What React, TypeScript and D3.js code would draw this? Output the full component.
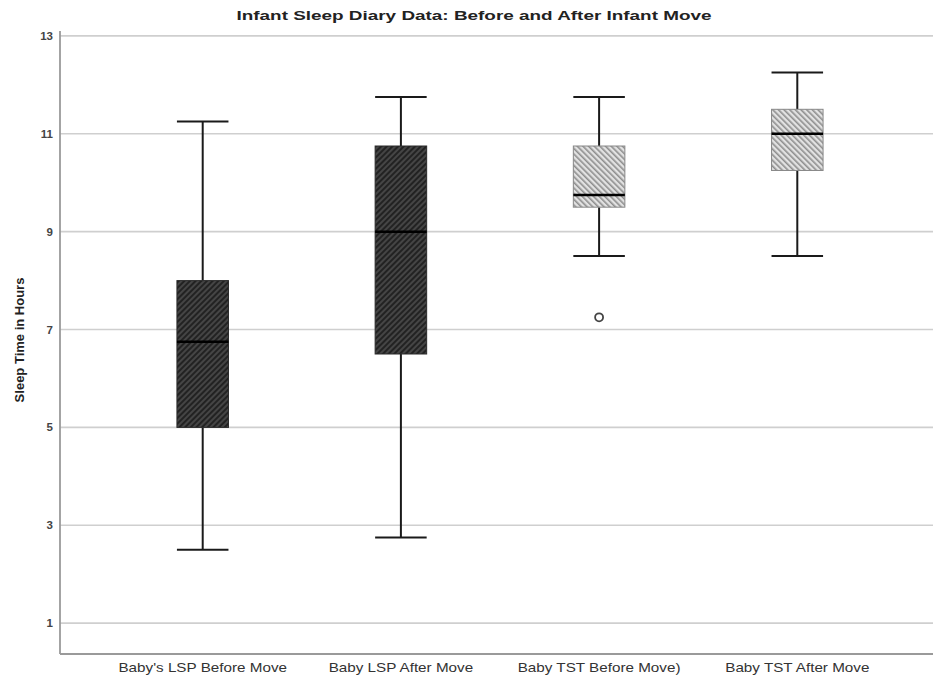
import React from "react";
import * as d3 from "d3";

const categories = [
  "Baby's LSP Before Move",
  "Baby LSP After Move",
  "Baby TST Before Move)",
  "Baby TST After Move",
];
const whiskerLow = [2.5, 2.75, 8.5, 8.5];
const q1 = [5, 6.5, 9.5, 10.25];
const median = [6.75, 9, 9.75, 11];
const q3 = [8, 10.75, 10.75, 11.5];
const whiskerHigh = [11.25, 11.75, 11.75, 12.25];
const outlierCategory = [2];
const outlierValue = [7.25];
const yTicks = [1, 3, 5, 7, 9, 11, 13];
const boxStyle = ["dark", "dark", "light", "light"];

const W = 933;
const H = 681;
const left = 60;
const bottom = 654;
const top = 31;

export default function App() {
  const y = d3.scaleLinear().domain([0.37, 13.1]).range([bottom, top]);
  const x = d3
    .scalePoint<string>()
    .domain(categories)
    .range([left, 940])
    .padding(0.72);
  const step = x.step();
  const boxW = step * 0.26;
  const capW = step * 0.13;

  return (
    <svg
      width={W}
      height={H}
      style={{ position: "absolute", left: 0, top: 0, background: "#fff" }}
      fontFamily="'Liberation Sans', Arial, sans-serif"
    >
      <defs>
        <pattern id="dark" patternUnits="userSpaceOnUse" width="4" height="4" patternTransform="rotate(45)">
          <rect width="4" height="4" fill="#454545" />
          <rect width="2" height="4" fill="#222" />
        </pattern>
        <pattern id="light" patternUnits="userSpaceOnUse" width="4" height="4" patternTransform="rotate(-45)">
          <rect width="4" height="4" fill="#e2e2e2" />
          <rect width="1.6" height="4" fill="#8e8e8e" />
        </pattern>
      </defs>
      <rect width={W} height={H} fill="#fff" />
      {yTicks.map((t) => (
        <line key={t} x1={left} x2={W} y1={y(t)} y2={y(t)} stroke="#cfcfcf" strokeWidth={1.6} />
      ))}
      <line x1={left} x2={left} y1={top} y2={bottom} stroke="#9a9a9a" strokeWidth={1.8} />
      <line x1={left} x2={W} y1={bottom} y2={bottom} stroke="#9a9a9a" strokeWidth={2.2} />
      {yTicks.map((t) => (
        <text key={t} x={53} y={y(t) + 4} textAnchor="end" fontSize={11.5} fill="#444" fontWeight="bold">
          {t}
        </text>
      ))}
      {categories.map((c, i) => {
        const cx = x(c)!;
        return (
          <g key={c}>
            <line x1={cx} x2={cx} y1={y(whiskerHigh[i])} y2={y(q3[i])} stroke="#1a1a1a" strokeWidth={2} />
            <line x1={cx} x2={cx} y1={y(q1[i])} y2={y(whiskerLow[i])} stroke="#1a1a1a" strokeWidth={2} />
            <line x1={cx - capW} x2={cx + capW} y1={y(whiskerHigh[i])} y2={y(whiskerHigh[i])} stroke="#1a1a1a" strokeWidth={2} />
            <line x1={cx - capW} x2={cx + capW} y1={y(whiskerLow[i])} y2={y(whiskerLow[i])} stroke="#1a1a1a" strokeWidth={2} />
            <rect
              x={cx - boxW / 2}
              width={boxW}
              y={y(q3[i])}
              height={y(q1[i]) - y(q3[i])}
              fill={`url(#${boxStyle[i]})`}
              stroke={boxStyle[i] === "dark" ? "#2a2a2a" : "#888"}
              strokeWidth={1}
            />
            <line
              x1={cx - boxW / 2}
              x2={cx + boxW / 2}
              y1={y(median[i])}
              y2={y(median[i])}
              stroke="#000"
              strokeWidth={2.5}
            />
            <g transform={`translate(${cx}, 672) scale(1.27, 1)`}>
              <text x={0} y={0} textAnchor="middle" fontSize={12} fill="#333">
                {c}
              </text>
            </g>
          </g>
        );
      })}
      {outlierCategory.map((ci, k) => (
        <circle
          key={k}
          cx={x(categories[ci])!}
          cy={y(outlierValue[k])}
          r={4}
          fill="#fff"
          stroke="#444"
          strokeWidth={1.8}
        />
      ))}
      <text x={474} y={20} textAnchor="middle" fontSize={13.5} fontWeight="bold" fill="#222" textLength={475} lengthAdjust="spacingAndGlyphs">
        Infant Sleep Diary Data: Before and After Infant Move
      </text>
      <text
        transform={`translate(24, ${340}) rotate(-90)`}
        textAnchor="middle"
        fontSize={13}
        fontWeight="bold"
        fill="#222"
      >
        Sleep Time in Hours
      </text>
    </svg>
  );
}
